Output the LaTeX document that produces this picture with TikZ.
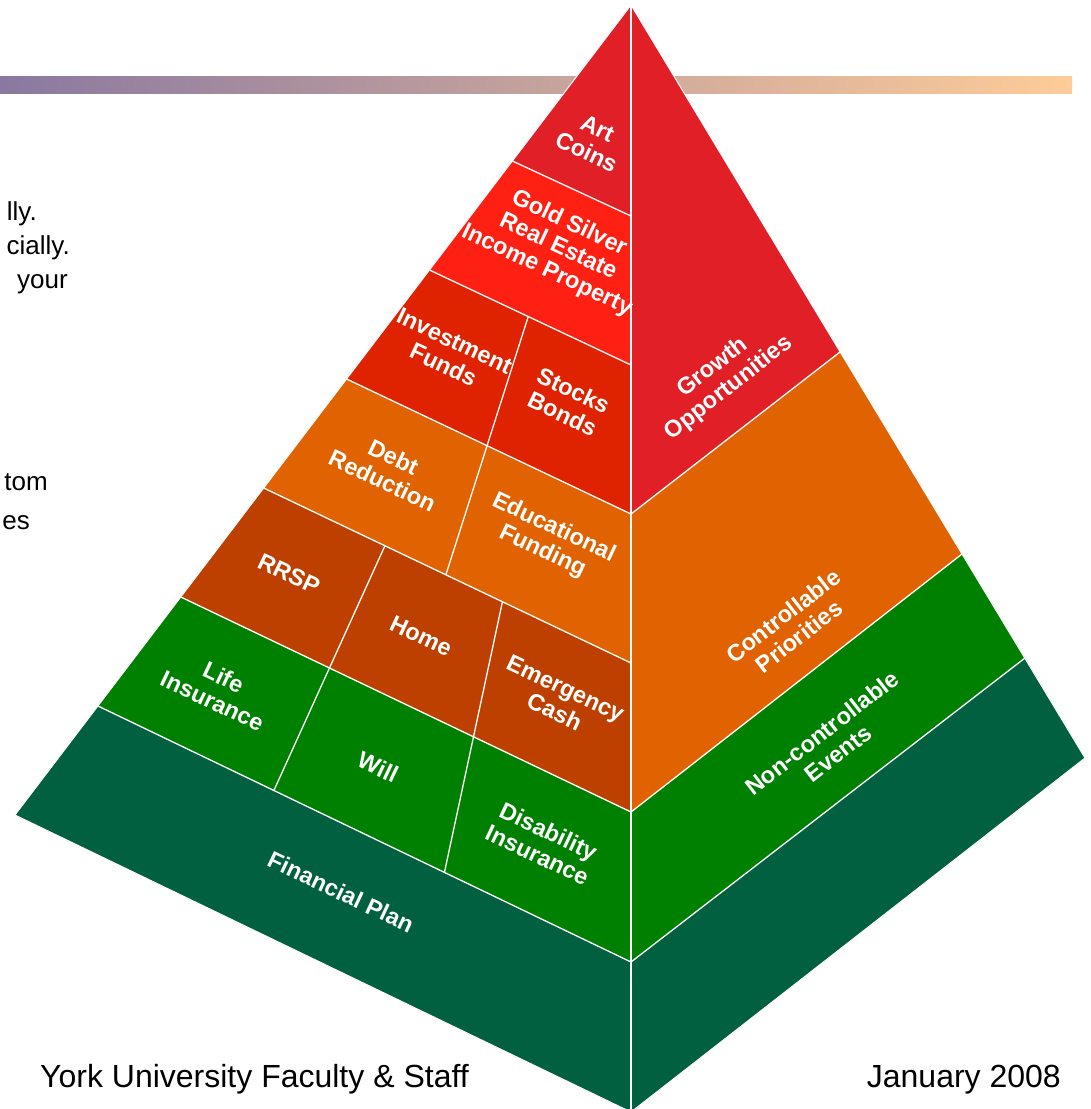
\documentclass[tikz,border=0pt]{standalone}
\usepackage{fontspec}
\setmainfont{Liberation Sans}
\usetikzlibrary{calc}
\definecolor{artred}{HTML}{E01F26}
\definecolor{goldred}{HTML}{FE2012}
\definecolor{invred}{HTML}{DF2300}
\definecolor{debtorange}{HTML}{E06200}
\definecolor{rrsprust}{HTML}{BE4000}
\definecolor{lifegreen}{HTML}{008000}
\definecolor{plangreen}{HTML}{00603F}
\definecolor{barleft}{HTML}{8A78A0}
\definecolor{barright}{HTML}{FECC99}

\begin{document}
\begin{tikzpicture}[x=1pt,y=-1pt,
  sep/.style={white, line width=1.3pt},
  lbl/.style={text=white, font=\fontsize{23.5}{26}\selectfont\bfseries, align=center, inner sep=0pt},
  lface/.style={lbl, rotate=-25.3},
  rface/.style={lbl, rotate=37.8},
  body/.style={font=\fontsize{26}{32}\selectfont, inner sep=0pt, anchor=base east},
  foot/.style={font=\fontsize{32}{38}\selectfont, inner sep=0pt}]
\useasboundingbox (0,0) rectangle (1091,1109);
\clip (0,0) rectangle (1091,1109);

% title bar behind the pyramid
\shade[left color=barleft, right color=barright] (0,76) rectangle (1072,93);

% slide text partly hidden by the pyramid
\node[body] (t1) at (37,220) {lly.};
\node[body] (t2) at (70,254) {cially.};
\node[body] (t3) at (68,288) {your};
\node[body] (t4) at (48,490) {tom};
\node[body] (t5) at (30,529) {es};

% pyramid corners
\coordinate (A) at (631,5);
\coordinate (P1) at (512.4,161);
\coordinate (P2) at (429.5,270);
\coordinate (P3) at (346.6,379);
\coordinate (P4) at (263.7,488);
\coordinate (P5) at (180.8,597);
\coordinate (P6) at (98,706);
\coordinate (P7) at (15,815);
\coordinate (F1) at (631,216);
\coordinate (F2) at (631,365);
\coordinate (F3) at (631,514);
\coordinate (F4) at (631,663);
\coordinate (F5) at (631,812);
\coordinate (F6) at (631,962);
\coordinate (F7) at (631,1112);
\coordinate (R1) at (840,352);
\coordinate (R2) at (962,554);
\coordinate (R3) at (1025,658);
\coordinate (R4) at (1085,758);
% cell dividers on the left face
\coordinate (D2) at ($(P2)!0.49!(F2)$);
\coordinate (D3) at ($(P3)!0.497!(F3)$);
\coordinate (D4) at ($(P4)!0.496!(F4)$);
\coordinate (Ea4) at ($(P4)!0.33!(F4)$);
\coordinate (Ea5) at ($(P5)!0.33!(F5)$);
\coordinate (Ea6) at ($(P6)!0.33!(F6)$);
\coordinate (Eb4) at ($(P4)!0.65!(F4)$);
\coordinate (Eb5) at ($(P5)!0.65!(F5)$);
\coordinate (Eb6) at ($(P6)!0.65!(F6)$);

% left face bands
\fill[artred] (A) -- (P1) -- (F1) -- cycle;
\fill[goldred] (P1) -- (P2) -- (F2) -- (F1) -- cycle;
\fill[invred] (P2) -- (P3) -- (F3) -- (F2) -- cycle;
\fill[debtorange] (P3) -- (P4) -- (F4) -- (F3) -- cycle;
\fill[rrsprust] (P4) -- (P5) -- (F5) -- (F4) -- cycle;
\fill[lifegreen] (P5) -- (P6) -- (F6) -- (F5) -- cycle;
\fill[plangreen] (P6) -- (P7) -- (F7) -- (F6) -- cycle;
% right face bands
\fill[artred] (A) -- (R1) -- (F3) -- cycle;
\fill[debtorange] (F3) -- (R1) -- (R2) -- (F5) -- cycle;
\fill[lifegreen] (F5) -- (R2) -- (R3) -- (F6) -- cycle;
\fill[plangreen] (F6) -- (R3) -- (R4) -- (F7) -- cycle;

% white separators
\draw[sep] (P1) -- (F1) (P2) -- (F2) (P3) -- (F3) (P4) -- (F4) (P5) -- (F5) (P6) -- (F6);
\draw[sep] (D2) -- (D4) (Ea4) -- (Ea6) (Eb4) -- (Eb6);
\draw[sep] (F3) -- (R1) (F5) -- (R2) (F6) -- (R3);
\draw[sep] (A) -- (F7);
\draw[white, line width=1pt, line join=miter] (A) -- (P7) -- (F7) -- (R4) -- cycle;

% left face labels
\node[lface] (art) at (592,140) {Art\\Coins};
\node[lface] (gold) at (558,247) {Gold Silver\\Real Estate\\Income Property};
\node[lface] (inv) at (449,353) {Investment\\Funds};
\node[lface] (stk) at (568,402) {Stocks\\Bonds};
\node[lface] (debt) at (388,469) {Debt\\Reduction};
\node[lface] (edu) at (548,540) {Educational\\Funding};
\node[lface] (rrsp) at (289,574) {RRSP};
\node[lface] (home) at (421,636) {Home};
\node[lface] (emg) at (560,700) {Emergency\\Cash};
\node[lface] (life) at (218,689) {Life\\Insurance};
\node[lface] (will) at (378,767) {Will};
\node[lface] (dis) at (543,843) {Disability\\Insurance};
\node[lface] (plan) at (341,892) {Financial Plan};
% right face labels
\node[rface] (grow) at (721,378) {Growth\\Opportunities};
\node[rface] (ctrl) at (791,626) {Controllable\\Priorities};
\node[rface] (nonc) at (830,743) {Non-controllable\\Events};

% footer
\node[foot, anchor=base west] (org) at (40,1087) {York University Faculty \& Staff};
\node[foot, anchor=base east] (date) at (1061,1087) {January 2008};
\end{tikzpicture}
\end{document}
